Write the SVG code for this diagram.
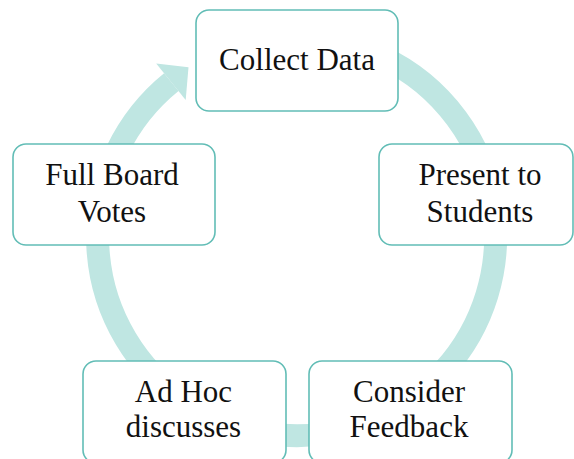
<svg xmlns="http://www.w3.org/2000/svg" width="574" height="459" viewBox="0 0 574 459">
  <style>
    .box { fill: #ffffff; stroke: #62bdb6; stroke-width: 1.6; }
    .lbl { font-family: "Liberation Serif", "Times New Roman", serif; font-size: 31px; fill: #111111; text-anchor: middle; }
    .band { fill: none; stroke: #bfe6e2; stroke-width: 23; }
    .head { fill: #bfe6e2; }
  </style>
  <rect width="574" height="459" fill="#ffffff"/>
  <g id="connectors">
    <path class="band" d="M 296.5 37.7 A 199 199 0 1 1 171.3 82.1"/>
    <polygon class="head" points="156.2,63.4 188.5,67.2 185.7,99.9"/>
  </g>
  <g id="node-collect">
    <rect class="box" x="196" y="10" width="202" height="101" rx="13"/>
    <text class="lbl" x="297" y="70">Collect Data</text>
  </g>
  <g id="node-present">
    <rect class="box" x="379" y="144" width="194" height="101" rx="13"/>
    <text class="lbl" x="480" y="185">Present to</text>
    <text class="lbl" x="480" y="221.5">Students</text>
  </g>
  <g id="node-consider">
    <rect class="box" x="309" y="361" width="203" height="102" rx="13"/>
    <text class="lbl" x="409" y="401.5">Consider</text>
    <text class="lbl" x="409" y="436.5">Feedback</text>
  </g>
  <g id="node-adhoc">
    <rect class="box" x="83" y="361" width="203" height="102" rx="13"/>
    <text class="lbl" x="183.5" y="401.5">Ad Hoc</text>
    <text class="lbl" x="183.5" y="436.5">discusses</text>
  </g>
  <g id="node-fullboard">
    <rect class="box" x="13" y="144" width="202" height="101" rx="13"/>
    <text class="lbl" x="112" y="185">Full Board</text>
    <text class="lbl" x="112" y="221.5">Votes</text>
  </g>
</svg>
